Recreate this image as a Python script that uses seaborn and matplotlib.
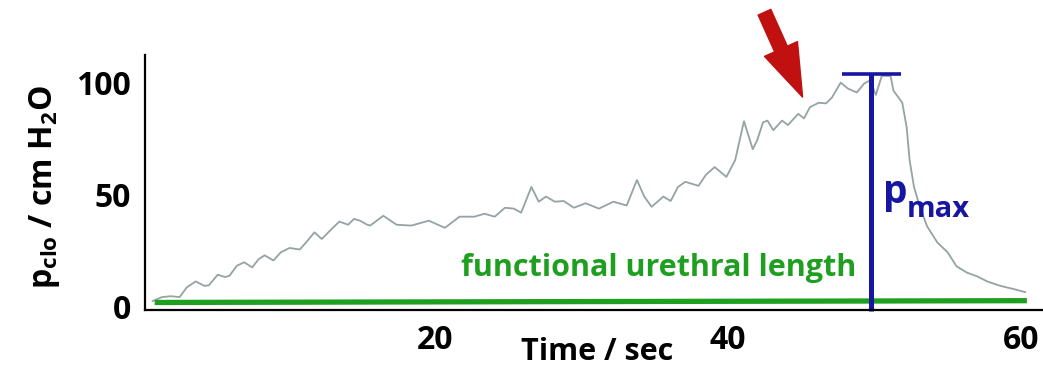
import numpy as np
import pandas as pd
import matplotlib
matplotlib.use("Agg")
import matplotlib.pyplot as plt
import seaborn as sns

# Closure pressure profile along the urethra
time_s = [0.75, 1.4, 2.0, 2.6, 3.1, 3.7, 4.3, 4.6, 5.2, 5.7, 6.0, 6.5, 7.0, 7.55,
          8.0, 8.4, 9.0, 9.5, 10.1, 10.8, 11.3, 11.8, 12.3, 12.9, 13.5, 14.1,
          14.5, 14.9, 15.4, 15.6, 16.5, 17.4, 18.4, 19.6, 20.7, 21.7, 22.7, 23.4,
          24.1, 24.8, 25.4, 25.9, 26.6, 27.1, 27.6, 28.2, 28.8, 29.5, 30.3, 31.2,
          32.2, 33.1, 33.8, 34.3, 34.8, 35.6, 36.1, 36.6, 37.1, 38.0, 38.5, 39.1,
          39.9, 40.5, 41.1, 41.7, 42.0, 42.4, 42.7, 43.1, 43.7, 44.1, 44.8, 45.2,
          45.6, 46.2, 46.7, 47.1, 47.7, 48.2, 48.8, 49.3, 49.7, 50.1, 50.5, 51.1,
          51.3, 51.9, 52.2, 52.4, 52.7, 53.1, 53.6, 54.3, 55.0, 55.6, 56.3, 57.0,
          57.7, 58.6, 59.5, 60.3]
p_clo = [2.2, 4.0, 4.4, 4.0, 8.4, 11.0, 9.0, 9.3, 14.0, 13.0, 13.5, 18.0, 19.6, 17.3,
         21.0, 22.7, 20.4, 24.0, 26.0, 25.3, 29.0, 33.0, 30.0, 34.0, 37.8, 36.4,
         39.0, 38.2, 36.4, 36.0, 40.4, 36.4, 36.0, 38.2, 35.0, 40.0, 40.0, 41.3,
         40.0, 44.0, 43.6, 41.8, 53.3, 46.7, 49.0, 46.7, 47.0, 44.0, 46.0, 43.6,
         46.7, 45.0, 56.4, 49.0, 44.4, 49.0, 47.0, 53.3, 55.6, 53.8, 58.7, 62.2,
         57.8, 65.3, 82.7, 70.2, 74.2, 82.2, 83.0, 78.7, 83.0, 81.0, 86.0, 84.0,
         89.0, 91.0, 90.7, 93.3, 100.0, 97.3, 95.6, 99.6, 101.0, 94.5, 103.0, 103.0,
         96.4, 91.0, 80.0, 65.3, 53.3, 44.4, 35.6, 28.4, 24.0, 17.8, 15.0, 13.3,
         11.0, 9.0, 7.6, 6.2]

# Functional urethral length bar (start/end) and maximum pressure marker
ful_x = [0.9, 60.4]
ful_y = [1.6, 2.4]
pmax_time = 49.8
pmax_value = 104
pmax_cap = [47.8, 51.8]

x_ticks = [20, 40, 60]
y_ticks = [0, 50, 100]

sns.set_theme(style="white")
plt.rcParams["font.family"] = ["Open Sans", "DejaVu Sans"]
plt.rcParams["font.weight"] = "bold"
plt.rcParams["mathtext.default"] = "regular"
for key in ["text.color", "axes.labelcolor", "xtick.color", "ytick.color"]:
    plt.rcParams[key] = "black"

df = pd.DataFrame({"time": time_s, "p": p_clo})

fig = plt.figure(figsize=(10.43, 3.70), dpi=100)
ax = fig.add_axes([0.139, 0.162, 0.861, 0.689])

sns.lineplot(data=df, x="time", y="p", ax=ax, color="#94a3a3", linewidth=1.3)

green = "#1f9f1f"
blue = "#1616a3"
ax.plot(ful_x, ful_y, color=green, linewidth=3.8, solid_capstyle="butt")
ax.plot([pmax_time, pmax_time], [-2, pmax_value], color=blue, linewidth=3.6,
        solid_capstyle="butt", clip_on=False)
ax.plot(pmax_cap, [pmax_value, pmax_value], color=blue, linewidth=2.6,
        solid_capstyle="butt")

ax.text(35.3, 17.0, "functional urethral length", color=green, fontsize=22,
        fontweight="bold", ha="center", va="center")
# p with a deep "max" subscript
ax.text(50.6, 46.0, "p", color=blue, fontsize=28, fontweight="bold",
        ha="left", va="baseline")
ax.text(52.2, 39.8, "max", color=blue, fontsize=21, fontweight="bold",
        ha="left", va="baseline")

ax.annotate("", xy=(45.1, 93.5), xytext=(42.5, 131.5), annotation_clip=False,
            arrowprops=dict(arrowstyle="simple,head_length=38,head_width=26,tail_width=10",
                            mutation_scale=1, color="#c01010", shrinkA=0, shrinkB=0))

ax.set_xlim(0.24, 61.5)
ax.set_ylim(-1.8, 112.3)
ax.set_xticks(x_ticks)
ax.set_yticks(y_ticks)
ax.tick_params(axis="both", length=0, labelsize=23, pad=10)
for lab in ax.get_xticklabels() + ax.get_yticklabels():
    lab.set_fontweight("bold")

ax.set_xlabel("Time / sec", fontsize=22, fontweight="bold")
ax.xaxis.set_label_coords(0.503, -0.105)
ax.set_ylabel(r"$p_{clo}$ / cm H$_2$O", fontsize=23, fontweight="bold")
ax.yaxis.set_label_coords(-0.092, 0.482)

for side in ["top", "right"]:
    ax.spines[side].set_visible(False)
for side in ["left", "bottom"]:
    ax.spines[side].set_color("black")
    ax.spines[side].set_linewidth(1.6)

fig.savefig("out.png", dpi=100)
